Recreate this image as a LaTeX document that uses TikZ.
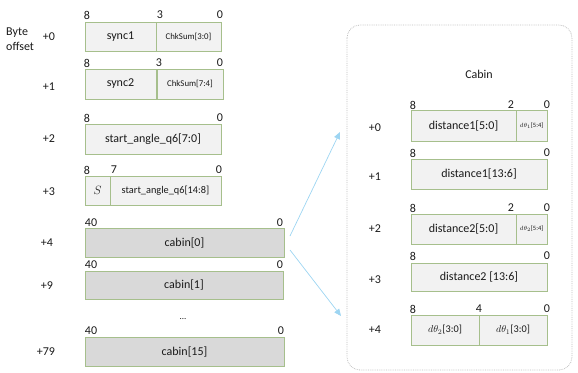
\documentclass[tikz,border=0pt]{standalone}
\usepackage{fontspec}
\setmainfont{Carlito}
\usetikzlibrary{arrows.meta,calc}
\definecolor{cellborder}{HTML}{A6BF8C}
\definecolor{cellfill}{HTML}{F2F2F2}
\definecolor{cabinfill}{HTML}{D9D9D9}
\definecolor{linkblue}{HTML}{9DD5F2}
\definecolor{panelgray}{HTML}{BFBFBF}
\definecolor{inktext}{HTML}{1A1A1A}
\begin{document}
\begin{tikzpicture}[x=1pt,y=-1pt, every node/.style={text=inktext},
  cell/.style={draw=cellborder, fill=cellfill, line width=0.9pt, inner sep=0pt, outer sep=0pt,
    anchor=north west, font=\fontsize{12}{14}\selectfont},
  cabincell/.style={cell, fill=cabinfill},
  bitlbl/.style={inner sep=0pt, font=\fontsize{12}{14}\selectfont},
  offs/.style={inner sep=0pt, font=\fontsize{12}{14}\selectfont},
  small/.style={font=\fontsize{8.8}{10}\selectfont},
  tiny/.style={font=\fontsize{6.5}{7}\selectfont},
  link/.style={draw=linkblue, line width=0.7pt, -{Triangle[length=7pt,width=6pt]}}]
\useasboundingbox (0,0) rectangle (578,372);

% ---- left column: frame header ----
\node[anchor=west, inner sep=0pt, align=left, font=\fontsize{12}{14.5}\selectfont] (byteoff) at (6,39) {Byte\\offset};

\node[offs] (o0) at (49,37) {+0};
\node[offs] (o1) at (49,87) {+1};
\node[offs] (o2) at (49,139) {+2};
\node[offs] (o3) at (49,192) {+3};
\node[offs] (o4) at (47,243) {+4};
\node[offs] (o9) at (47,286) {+9};
\node[offs] (o79) at (46,352) {+79};

% byte 0
\node[cell, minimum width=71, minimum height=29] (sync1) at (85,22) {sync1};
\node[cell, minimum width=65, minimum height=29, small] (chk1) at (156,22) {ChkSum[3:0]};
\node[bitlbl] (b0a) at (87,15) {8};
\node[bitlbl] (b0b) at (160,15) {3};
\node[bitlbl] (b0c) at (220,15) {0};

% byte 1
\node[cell, minimum width=71, minimum height=30] (sync2) at (85,69) {sync2};
\node[cell, minimum width=66, minimum height=30, small] (chk2) at (157,69) {ChkSum[7:4]};
\node[bitlbl] (b1a) at (87,63) {8};
\node[bitlbl] (b1b) at (159,63) {3};
\node[bitlbl] (b1c) at (220,63) {0};

% byte 2
\node[cell, minimum width=136, minimum height=30] (sa1) at (85,124) {start\_angle\_q6[7:0]};
\node[bitlbl] (b2a) at (87,118) {8};
\node[bitlbl] (b2c) at (220,118) {0};

% byte 3
\node[cell, minimum width=25, minimum height=29] (sbit) at (85,176) {$S$};
\node[cell, minimum width=111, minimum height=29, font=\fontsize{10.3}{12}\selectfont] (sa2) at (110,176) {start\_angle\_q6[14:8]};
\node[bitlbl] (b3a) at (87,170) {8};
\node[bitlbl] (b3b) at (114,170) {7};
\node[bitlbl] (b3c) at (219,170) {0};

% cabin records
\node[cabincell, minimum width=199, minimum height=29] (cabin0) at (85,228) {cabin[0]};
\node[bitlbl] (c0a) at (91,223) {40};
\node[bitlbl] (c0b) at (280,223) {0};

\node[cabincell, minimum width=198, minimum height=28] (cabin1) at (85,271) {cabin[1]};
\node[bitlbl] (c1a) at (91,265) {40};
\node[bitlbl] (c1b) at (280,265) {0};

\node[bitlbl, font=\fontsize{9}{10}\selectfont] (dots) at (183,319) {...};

\node[cabincell, minimum width=199, minimum height=29] (cabin15) at (85,337) {cabin[15]};
\node[bitlbl] (c15a) at (91,331) {40};
\node[bitlbl] (c15b) at (281,331) {0};

% ---- right column: one cabin record ----
\draw[panelgray, densely dotted, line width=0.8pt, rounded corners=13] (347,25) rectangle (572,370);
\node[offs] (cabtitle) at (479,74) {Cabin};

\node[offs] (r0) at (375,128) {+0};
\node[offs] (r1) at (375,177) {+1};
\node[offs] (r2) at (375,229) {+2};
\node[offs] (r3) at (375,280) {+3};
\node[offs] (r4) at (375,330) {+4};

% byte 0
\node[cell, minimum width=105, minimum height=31] (d1lo) at (411,110) {distance1[5:0]};
\node[cell, minimum width=31, minimum height=31, tiny] (th1hi) at (516,110) {$d\theta_1$[5:4]};
\node[bitlbl] (e0a) at (413,105) {8};
\node[bitlbl] (e0b) at (511,105) {2};
\node[bitlbl] (e0c) at (547,105) {0};

% byte 1
\node[cell, minimum width=136, minimum height=30] (d1hi) at (411,159) {distance1[13:6]};
\node[bitlbl] (e1a) at (413,153) {8};
\node[bitlbl] (e1c) at (547,153) {0};

% byte 2
\node[cell, minimum width=105, minimum height=30] (d2lo) at (411,214) {distance2[5:0]};
\node[cell, minimum width=31, minimum height=30, tiny] (th2hi) at (516,214) {$d\theta_2$[5:4]};
\node[bitlbl] (e2a) at (413,208) {8};
\node[bitlbl] (e2b) at (511,208) {2};
\node[bitlbl] (e2c) at (547,208) {0};

% byte 3
\node[cell, minimum width=136, minimum height=28] (d2hi) at (411,263) {distance2 [13:6]};
\node[bitlbl] (e3a) at (413,256) {8};
\node[bitlbl] (e3c) at (547,256) {0};

% byte 4
\node[cell, minimum width=68, minimum height=30, font=\fontsize{10.3}{12}\selectfont] (th2lo) at (411,315) {$d\theta_2$[3:0]};
\node[cell, minimum width=68, minimum height=30, font=\fontsize{10.3}{12}\selectfont] (th1lo) at (479,315) {$d\theta_1$[3:0]};
\node[bitlbl] (e4a) at (413,309) {8};
\node[bitlbl] (e4b) at (479,309) {4};
\node[bitlbl] (e4c) at (547,309) {0};

% expansion arrows
\coordinate (up1) at ($(cabin0.north east)+(6,8)$);
\coordinate (up2) at (340,132);
\coordinate (dn1) at ($(cabin0.south east)+(6,-7)$);
\coordinate (dn2) at (341,316);
\draw[link] (up1) -- (up2);
\draw[link] (dn1) -- (dn2);
\end{tikzpicture}
\end{document}
